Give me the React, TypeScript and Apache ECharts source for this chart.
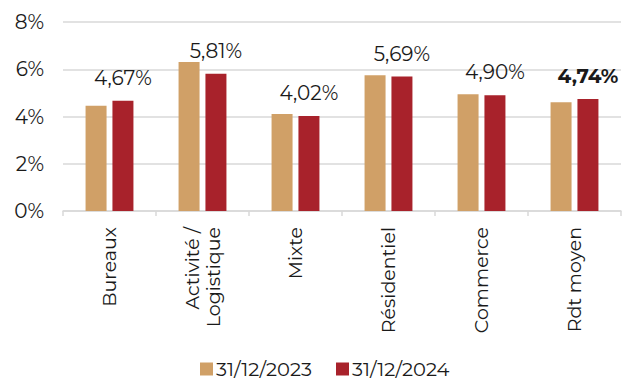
import React, { useEffect, useRef } from "react";
import * as echarts from "echarts";

const categories = ["Bureaux", "Activité /\nLogistique", "Mixte", "Résidentiel", "Commerce", "Rdt moyen"];
const seriesNames = ["31/12/2023", "31/12/2024"];
const values2023 = [4.45, 6.31, 4.11, 5.75, 4.94, 4.6];
const values2024 = [4.67, 5.81, 4.02, 5.69, 4.9, 4.74];
const yTicks = [0, 2, 4, 6, 8];

const FONT = "Montserrat, 'DejaVu Sans', sans-serif";

export default function App() {
  const ref = useRef<HTMLDivElement>(null);
  useEffect(() => {
    if (!ref.current) return;
    const chart = echarts.init(ref.current, undefined, { renderer: "svg" });
    chart.setOption({
      animation: false,
      textStyle: { fontFamily: FONT, color: "#1a1a1a" },
      grid: { left: 63, right: 1, top: 22, bottom: 169, containLabel: false },
      legend: {
        bottom: 1,
        left: 200,
        padding: 0,
        itemWidth: 13,
        itemHeight: 13,
        itemGap: 24,
        icon: "rect",
        textStyle: {
          fontFamily: FONT,
          fontSize: 19.5,
          lineHeight: 18,
          color: "#1a1a1a",
          padding: [0, 0, 0, -2],
        },
        data: seriesNames,
      },
      xAxis: {
        type: "category",
        data: categories,
        axisLine: { lineStyle: { color: "#d9d9d9", width: 1.5 } },
        axisTick: { show: true, length: 5, lineStyle: { color: "#d9d9d9", width: 1.5 } },
        axisLabel: {
          rotate: 90,
          margin: 16,
          interval: 0,
          fontFamily: FONT,
          fontSize: 19,
          color: "#1a1a1a",
          lineHeight: 21,
        },
      },
      yAxis: {
        type: "value",
        min: 0,
        max: 8,
        interval: 2,
        axisLine: { show: false },
        axisTick: { show: false },
        splitLine: { lineStyle: { color: "#d9d9d9", width: 1.5 } },
        axisLabel: {
          margin: 19,
          fontFamily: FONT,
          fontSize: 20,
          color: "#1a1a1a",
          formatter: (v: number) => (yTicks.includes(v) ? `${v}%` : ""),
        },
      },
      series: [
        {
          name: seriesNames[0],
          type: "bar",
          data: values2023,
          barWidth: 21,
          barGap: "28%",
          itemStyle: { color: "#D0A067" },
        },
        {
          name: seriesNames[1],
          type: "bar",
          data: values2024.map((v, i) =>
            i === values2024.length - 1
              ? { value: v, label: { fontWeight: "bold" } }
              : v
          ),
          barWidth: 21,
          itemStyle: { color: "#A8222B" },
          label: {
            show: true,
            position: "top",
            distance: 13,
            fontFamily: FONT,
            fontSize: 20,
            color: "#1a1a1a",
            formatter: (p: any) => `${p.value.toFixed(2).replace(".", ",")}%`,
          },
        },
      ],
    });
    return () => chart.dispose();
  }, []);
  return <div ref={ref} style={{ width: 622, height: 380, position: "absolute", left: 0, top: 0 }} />;
}
